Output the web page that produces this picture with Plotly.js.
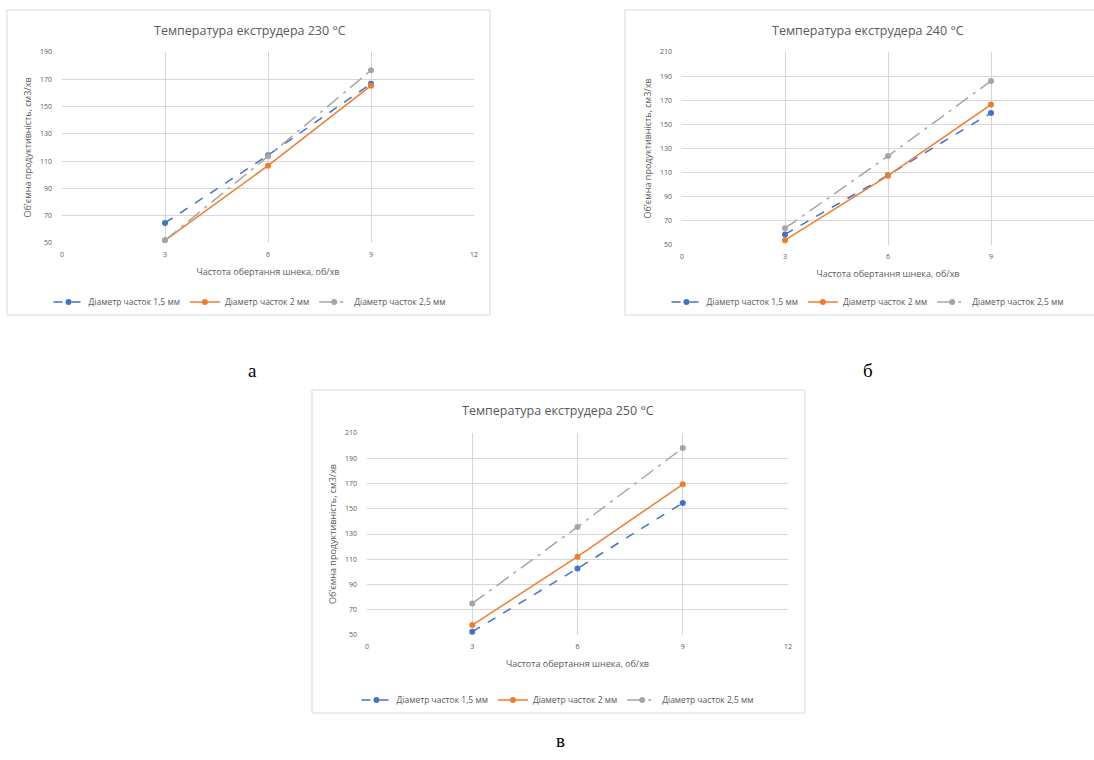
<!DOCTYPE html>
<html>
<head>
<meta charset="utf-8">
<script src="https://cdn.plot.ly/plotly-3.0.1.min.js"></script>
<style>html,body{margin:0;padding:0;background:#fff;}#chart{width:1094px;height:760px;}</style>
</head>
<body>
<div id="chart"></div>
<script>
// ---- data ----
const speeds = [3, 6, 9];
const seriesNames = ["Діаметр часток 1,5 мм", "Діаметр часток 2 мм", "Діаметр часток 2,5 мм"];
const chartTitles = ["Температура екструдера 230 °С", "Температура екструдера 240 °С", "Температура екструдера 250 °С"];
const panelLabels = ["а", "б", "в"];
const xTitle = "Частота обертання шнека, об/хв";
const yTitle = "Об'ємна продуктивність, см3/хв";
const xTickVals = [0, 3, 6, 9, 12];

// 230 °C
const a_d15 = [64.7, 114.3, 166.8];
const a_d20 = [52.0, 106.7, 165.3];
const a_d25 = [52.0, 113.5, 176.6];
const a_yTicks = [50, 70, 90, 110, 130, 150, 170, 190];
// 240 °C
const b_d15 = [58.8, 107.9, 159.5];
const b_d20 = [54.0, 107.5, 166.4];
const b_d25 = [63.8, 123.7, 186.0];
const b_yTicks = [50, 70, 90, 110, 130, 150, 170, 190, 210];
// 250 °C
const c_d15 = [52.6, 102.7, 154.6];
const c_d20 = [57.9, 112.0, 169.4];
const c_d25 = [75.0, 135.6, 198.1];
const c_yTicks = [50, 70, 90, 110, 130, 150, 170, 190, 210];

// ---- layout helpers ----
const W = 1094, H = 760;
const px = v => v / W;
const py = v => 1 - v / H;

const colors = ["#4472C4", "#ED7D31", "#A5A5A5"];
const dashes = ["dash", "solid", "longdashdot"];
const txt = "#595959";
const fam = "'Open Sans', 'Liberation Sans', sans-serif";

const panels = [
  {data: [a_d15, a_d20, a_d25], yTicks: a_yTicks, box: [7, 10, 490, 315], plot: [62, 52, 474, 243], lab: [252, 370], tx: 250},
  {data: [b_d15, b_d20, b_d25], yTicks: b_yTicks, box: [625, 10, 1100, 315], plot: [682, 52, 1094, 245], lab: [868, 370], tx: 868},
  {data: [c_d15, c_d20, c_d25], yTicks: c_yTicks, box: [312, 390, 805, 713], plot: [367, 433, 788, 635], lab: [560, 740], tx: 558}
];

const traces = [];
const layout = {
  width: W, height: H,
  margin: {l: 0, r: 0, t: 0, b: 0},
  paper_bgcolor: "#fff", plot_bgcolor: "#fff",
  showlegend: true,
  font: {family: fam, color: txt, size: 7},
  shapes: [], annotations: []
};

panels.forEach((p, i) => {
  const n = i === 0 ? "" : String(i + 1);
  const xa = "x" + n, ya = "y" + n;
  const legId = "legend" + n;
  p.data.forEach((vals, s) => {
    traces.push({
      type: "scatter", mode: "lines+markers",
      x: speeds, y: vals, name: seriesNames[s],
      xaxis: xa, yaxis: ya, legend: legId,
      line: {color: colors[s], width: 1.5, dash: dashes[s]},
      marker: {color: colors[s], size: 6, symbol: "circle"}
    });
  });
  const [l, t, r, b] = p.plot;
  layout["xaxis" + n] = {
    domain: [px(l), px(r)], anchor: ya, range: [0, 12],
    tickvals: xTickVals, ticks: "", showgrid: true, gridcolor: "#D6D6D6", gridwidth: 1,
    zeroline: false, showline: false, tickfont: {size: 7, color: txt}, ticklabelstandoff: 6,
    title: {text: xTitle, font: {size: 9, color: txt}, standoff: 10},
    fixedrange: true
  };
  layout["yaxis" + n] = {
    domain: [py(b), py(t)], anchor: xa,
    range: [p.yTicks[0], p.yTicks[p.yTicks.length - 1]],
    tickvals: p.yTicks, ticks: "", showgrid: true, gridcolor: "#D6D6D6", gridwidth: 1,
    zeroline: false, showline: false, tickfont: {size: 7, color: txt}, ticklabelstandoff: 9,
    title: {text: yTitle, font: {size: 9, color: txt}, standoff: 6},
    fixedrange: true
  };
  const [bx0, by0, bx1, by1] = p.box;
  layout.shapes.push({type: "rect", xref: "paper", yref: "paper",
    x0: px(bx0), x1: px(bx1), y0: py(by1), y1: py(by0),
    line: {color: "#D9D9D9", width: 1}, fillcolor: "rgba(0,0,0,0)", layer: "below"});
  layout.annotations.push({xref: "paper", yref: "paper", x: px(p.tx), y: py(by0 + 20),
    text: chartTitles[i], showarrow: false, xanchor: "center", yanchor: "middle",
    font: {size: 12.5, color: txt, family: fam}});
  layout.annotations.push({xref: "paper", yref: "paper", x: px(p.lab[0]), y: py(p.lab[1]),
    text: panelLabels[i], showarrow: false, xanchor: "center", yanchor: "middle",
    font: {size: 19, color: "#000", family: "'Liberation Serif', 'DejaVu Serif', serif"}});
  layout[legId] = {
    orientation: "h", xref: "paper", yref: "paper",
    x: px(p.tx), xanchor: "center",
    y: py(by1 - 13), yanchor: "middle",
    font: {size: 8.5, color: txt}, bgcolor: "rgba(0,0,0,0)",
    itemwidth: 30, tracegroupgap: 0
  };
});

Plotly.newPlot("chart", traces, layout, {displayModeBar: false, staticPlot: true});
</script>
</body>
</html>
